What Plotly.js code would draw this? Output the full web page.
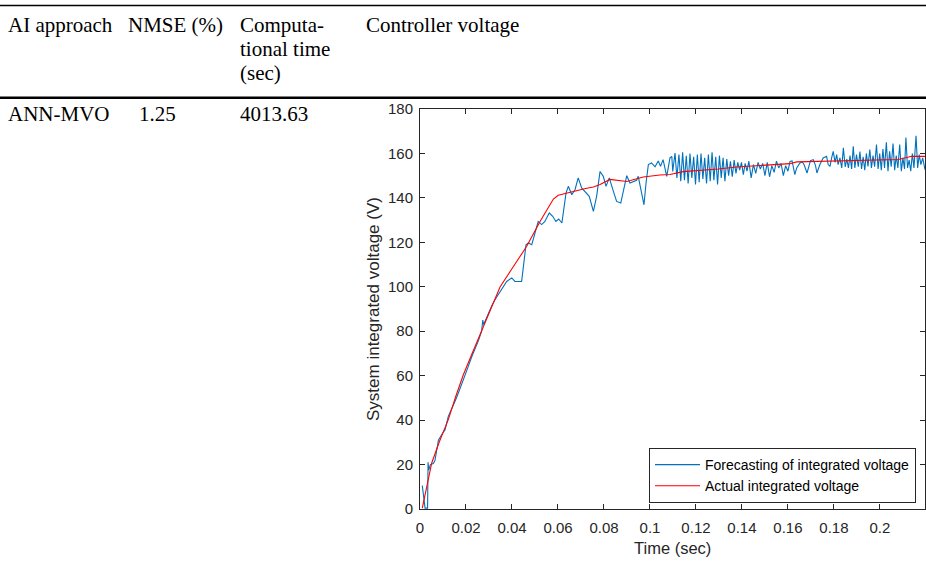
<!DOCTYPE html>
<html>
<head>
<meta charset="utf-8">
<script src="https://cdn.plot.ly/plotly-3.0.1.min.js"></script>
<style>html,body{margin:0;padding:0;background:#fff;}#chart{width:926px;height:570px;}</style>
</head>
<body>
<div id="chart"></div>
<script>
// ---- Table content ----
var tableHeaders = ["AI approach", "NMSE (%)", "Computa-", "tional time", "(sec)", "Controller voltage"];
var tableRow = ["ANN-MVO", "1.25", "4013.63"];

// ---- Chart text ----
var seriesNames = ["Forecasting of integrated voltage", "Actual integrated voltage"];
var xTitle = "Time (sec)";
var yTitle = "System integrated voltage (V)";
var xTickVals = [0, 0.02, 0.04, 0.06, 0.08, 0.1, 0.12, 0.14, 0.16, 0.18, 0.2];
var xTickText = ["0", "0.02", "0.04", "0.06", "0.08", "0.1", "0.12", "0.14", "0.16", "0.18", "0.2"];
var yTickVals = [0, 20, 40, 60, 80, 100, 120, 140, 160, 180];

// ---- Actual integrated voltage ----
var tActual = [0.001, 0.003, 0.0051, 0.0085, 0.0123, 0.0155, 0.0188, 0.0228, 0.0268, 0.0308, 0.0348, 0.0399, 0.0464, 0.0522, 0.058, 0.0601, 0.0635, 0.0667, 0.072, 0.0754, 0.0783, 0.0826, 0.0899, 0.0971, 0.1043, 0.1087, 0.1145, 0.1217, 0.1297, 0.1377, 0.1435, 0.1522, 0.1609, 0.1638, 0.1783, 0.2, 0.208, 0.2138, 0.2196];
var vActual = [0.4, 11, 20.7, 30.5, 40.2, 50.5, 60.3, 70.3, 80, 90, 99.9, 108, 118.2, 129.4, 139.5, 141.2, 142.2, 142.9, 144.2, 144.9, 146, 148.3, 147.4, 149.4, 150.3, 150.5, 151.8, 152.3, 153, 153.9, 154.3, 154.9, 155.4, 156.2, 156.6, 157.1, 157.3, 158.7, 158.7];

// ---- Forecasting of integrated voltage ----
var tForecast = [0.001, 0.0018, 0.0022, 0.0033, 0.0035, 0.0038, 0.0045, 0.0058, 0.0065, 0.0072, 0.008, 0.0094, 0.0109, 0.0123, 0.0138, 0.0152, 0.0166, 0.0181, 0.0195, 0.021, 0.0225, 0.0239, 0.0255, 0.0268, 0.0273, 0.0277, 0.0297, 0.0312, 0.0326, 0.0348, 0.0377, 0.0399, 0.0413, 0.0442, 0.0452, 0.0461, 0.0471, 0.0486, 0.05, 0.0514, 0.0529, 0.0543, 0.0562, 0.0577, 0.0591, 0.0603, 0.0617, 0.0635, 0.0645, 0.066, 0.0674, 0.0688, 0.0703, 0.0717, 0.0736, 0.0754, 0.0768, 0.0783, 0.0797, 0.0809, 0.0823, 0.0841, 0.0855, 0.0873, 0.0887, 0.0899, 0.0913, 0.0928, 0.0942, 0.0949, 0.096, 0.0974, 0.0983, 0.0993, 0.1007, 0.1022, 0.1036, 0.1046, 0.1057, 0.1066, 0.1073, 0.1087, 0.1095, 0.1099, 0.1109, 0.1117, 0.1126,
  0.1134, 0.1142, 0.115, 0.1158, 0.1166, 0.1174, 0.1182, 0.119, 0.1198, 0.1206, 0.1214, 0.1222, 0.123, 0.1238, 0.1246, 0.1254, 0.1262, 0.127, 0.1278, 0.1286, 0.1294, 0.1302, 0.131, 0.1318, 0.1326, 0.1334, 0.1342, 0.135, 0.1358, 0.1366, 0.1374, 0.1382, 0.139,
  0.1398, 0.1406, 0.1414, 0.1422, 0.143, 0.144, 0.145, 0.146, 0.147, 0.148, 0.149, 0.15, 0.151, 0.152, 0.153, 0.154, 0.155, 0.156, 0.157, 0.158, 0.159, 0.16, 0.1609, 0.1618, 0.163, 0.1638, 0.1652, 0.1662, 0.167, 0.1683, 0.169, 0.1698, 0.171, 0.172, 0.1726, 0.1739, 0.1753, 0.1768, 0.1775, 0.1783, 0.179, 0.1797, 0.1805, 0.1812, 0.1818, 0.1826, 0.1834, 0.1841, 0.1849, 0.1856, 0.1863, 0.187, 0.1877, 0.1884, 0.1891, 0.1898, 0.1906, 0.1913, 0.192, 0.1927, 0.1934, 0.1941, 0.1948, 0.1956, 0.1963, 0.197, 0.1977, 0.1985, 0.1992, 0.1999, 0.2006, 0.2013, 0.202, 0.2028, 0.2035, 0.2042, 0.2049, 0.2057, 0.2064, 0.2071, 0.2078, 0.2086, 0.2093, 0.21, 0.2107, 0.2113, 0.212, 0.2127, 0.2134, 0.2141, 0.2148, 0.2157, 0.2164, 0.2171, 0.2178, 0.2186, 0.2196];
var vForecast = [10.5, 4, 0.4, 0.4, 21, 17.5, 20, 20.5, 21.8, 26, 31, 33.4, 35.7, 41.7, 45, 48.4, 52, 55.9, 60, 64.2, 68.5, 71.7, 76, 80, 85, 83, 88.2, 91.5, 94.2, 97.9, 102.4, 104, 102.4, 102.4, 110.7, 118.9, 119.7, 118.9, 124.2, 129.4, 128, 129.4, 133.2, 131.7, 129.4, 130.5, 128.7, 142.2, 145.2, 141.4, 143.7, 149, 144.5, 142.9, 140.7, 133.9, 140.7, 151.9, 149.7, 145.2, 149, 142.9, 138.4, 137.7, 145.2, 150, 146.7, 147.4, 147.9, 149.7, 144, 136.9, 146.7, 155, 155.7, 154, 156.6, 154.2, 157.2, 153, 149.7, 158, 158.7, 151.9, 160.2, 149, 159.5,
  147.5, 160.5, 148, 159, 146.5, 160, 149, 158.5, 146, 159.5, 147, 160, 148.5, 158, 146.5, 159.5, 147.5, 160.5, 148, 158.5, 146, 159, 149, 158, 147.5, 157.5, 150, 156.5, 149.5, 157, 151, 156, 152.5,
  156, 150.5, 155.5, 152, 156.5, 149, 155, 151, 156, 153, 155.5, 150, 156, 149.5, 154.5, 151.5, 156.5, 153.5, 155.5, 150, 154.5, 152, 156.4, 156.6, 150.5, 153.5, 155.7, 156.2, 155, 151.2, 154, 156.8, 157.2, 154.5, 151.2, 155, 158, 158.7, 155, 154.2, 158, 160.9, 156, 159.5, 155, 158, 153.5, 162.5, 154, 157.5, 153.5, 159, 153, 163.2, 153.5, 159.5, 154, 160.9, 153, 158.5, 152.5, 160, 154.2, 161.7, 153.5, 159, 154, 164, 153, 160, 152.5, 162, 153.5, 165, 152, 161, 154, 164.5, 152.5, 159, 153.5, 164, 152, 158, 153, 167.2, 153.5, 157, 152, 160, 153.5, 168, 153.5, 159.5, 155, 158, 152.7];

// ---- Geometry helpers (pixel -> paper) ----
var W = 926, H = 570, ML = 420, MR = 1, MT = 109, MB = 61;
var PW = W - ML - MR, PH = H - MT - MB;
function px(x) { return (x - ML) / PW; }
function py(y) { return (H - MB - y) / PH; }

var serif = "Liberation Serif, Times New Roman, serif";
var sans = "Liberation Sans, Arial, sans-serif";
var ink = "#262626";

var traces = [
  {x: tForecast, y: vForecast, name: seriesNames[0], type: "scatter", mode: "lines",
   line: {color: "#0072BD", width: 1.1}},
  {x: tActual, y: vActual, name: seriesNames[1], type: "scatter", mode: "lines",
   line: {color: "#FF0000", width: 1.1}}
];

function tableText(txt, x, y) {
  return {text: txt, xref: "paper", yref: "paper", x: px(x), y: py(y), xanchor: "left",
          yanchor: "middle", showarrow: false, font: {family: serif, size: 21, color: "#000"}};
}

var annotations = [
  tableText(tableHeaders[0], 6, 24.5),
  tableText(tableHeaders[1], 126, 24.5),
  tableText(tableHeaders[2], 238, 24.5),
  tableText(tableHeaders[3], 238, 49),
  tableText(tableHeaders[4], 238, 73),
  tableText(tableHeaders[5], 364, 24.5),
  tableText(tableRow[0], 6, 113.5),
  tableText(tableRow[1], 137, 113.5),
  tableText(tableRow[2], 238, 113.5),
  {text: yTitle, xref: "paper", yref: "paper", x: px(373), y: 0.5, xanchor: "center", yanchor: "middle",
   textangle: -90, showarrow: false, font: {family: sans, size: 17, color: ink}},
  {text: xTitle, xref: "paper", yref: "paper", x: 0.5, y: py(548), xanchor: "center", yanchor: "middle",
   showarrow: false, font: {family: sans, size: 16.5, color: ink}}
];

var shapes = [
  {type: "line", xref: "paper", yref: "paper", x0: px(0), x1: px(926), y0: py(5.5), y1: py(5.5),
   line: {color: "#000", width: 1.6}},
  {type: "line", xref: "paper", yref: "paper", x0: px(0), x1: px(926), y0: py(97.8), y1: py(97.8),
   line: {color: "#000", width: 2.6}}
];

var axisCommon = {
  showgrid: false, zeroline: false, showline: true, mirror: "ticks", linecolor: ink, linewidth: 1,
  ticks: "inside", ticklen: 5, tickcolor: ink, tickwidth: 1,
  tickfont: {family: sans, size: 15, color: ink}
};

var layout = {
  width: W, height: H,
  margin: {l: ML, r: MR, t: MT, b: MB, pad: 0},
  paper_bgcolor: "#fff", plot_bgcolor: "#fff",
  xaxis: Object.assign({}, axisCommon, {range: [0, 0.2196], tickvals: xTickVals, ticktext: xTickText, ticklabelstandoff: 5}),
  yaxis: Object.assign({}, axisCommon, {range: [0, 180], tickvals: yTickVals, ticklabelstandoff: 3}),
  showlegend: true,
  legend: {x: px(649), y: py(448), xanchor: "left", yanchor: "top", bgcolor: "#fff",
           bordercolor: ink, borderwidth: 1, font: {family: sans, size: 14, color: "#000"},
           tracegroupgap: 0, itemwidth: 45},
  annotations: annotations,
  shapes: shapes
};

Plotly.newPlot("chart", traces, layout, {displayModeBar: false, staticPlot: true});
</script>
</body>
</html>
